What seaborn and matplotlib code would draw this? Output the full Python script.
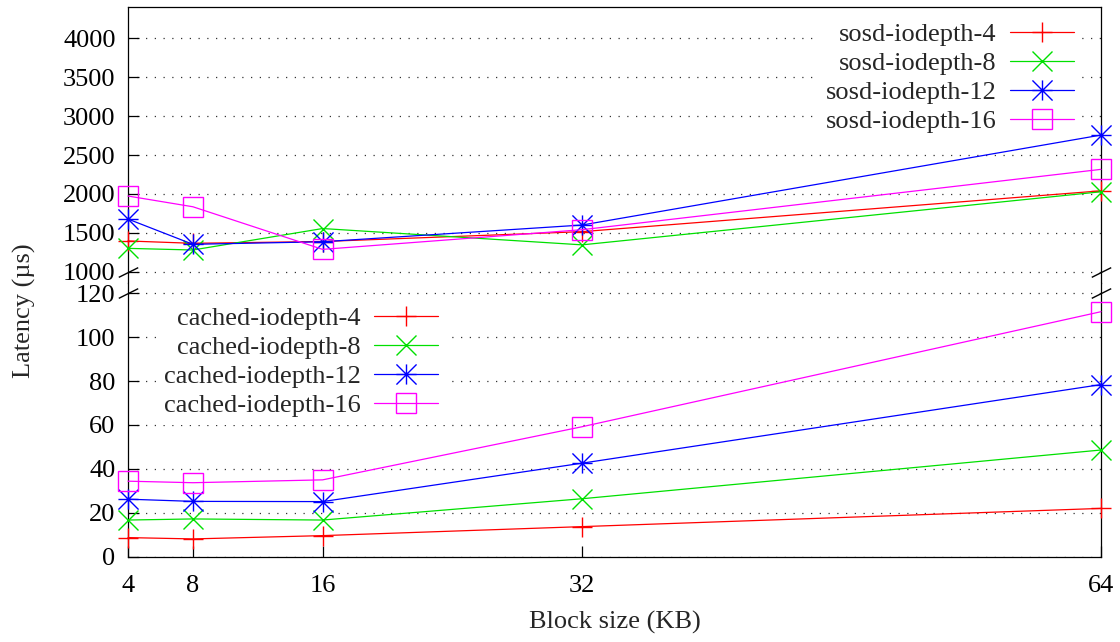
import numpy as np
import matplotlib
matplotlib.use("Agg")
import matplotlib.pyplot as plt
from matplotlib.path import Path
import seaborn as sns

# ---- data ----
block_sizes = [4, 8, 16, 32, 64]

sosd_labels = ["sosd-iodepth-4", "sosd-iodepth-8", "sosd-iodepth-12", "sosd-iodepth-16"]
sosd_iodepth_4 = [1395, 1365, 1388, 1515, 2040]
sosd_iodepth_8 = [1300, 1279, 1555, 1345, 2028]
sosd_iodepth_12 = [1677, 1352, 1385, 1600, 2757]
sosd_iodepth_16 = [1973, 1835, 1287, 1540, 2316]

cached_labels = ["cached-iodepth-4", "cached-iodepth-8", "cached-iodepth-12", "cached-iodepth-16"]
cached_iodepth_4 = [8.7, 8.1, 9.6, 13.7, 22.0]
cached_iodepth_8 = [16.7, 17.2, 16.7, 26.4, 48.6]
cached_iodepth_12 = [26.2, 25.2, 25.1, 42.6, 78.4]
cached_iodepth_16 = [34.4, 33.7, 35.0, 59.2, 111.6]

top_ticks = [1000, 1500, 2000, 2500, 3000, 3500, 4000]
bot_ticks = [0, 20, 40, 60, 80, 100, 120]

x_label = "Block size (KB)"
y_label = "Latency (µs)"

# ---- style ----
sns.set_theme(style="white")
plt.rcParams["font.family"] = ["Liberation Serif", "DejaVu Serif"]
FS = 19

colors = ["#ff0000", "#00e000", "#0000ff", "#ff00ff"]
asterisk = Path([(-1, 0), (1, 0), (0, -1), (0, 1), (-1, -1), (1, 1), (-1, 1), (1, -1)],
                [Path.MOVETO, Path.LINETO] * 4)
markers = ["+", "x", asterisk, "s"]

W, H = 1120, 642
fig = plt.figure(figsize=(W / 100, H / 100), dpi=100)

x_left, x_right = 128, 1101
y_top, y_mid, y_bot = 7.3, 282.5, 556.7

def frac_rect(top_px, bot_px):
    return [x_left / W, 1 - bot_px / H, (x_right - x_left) / W, (bot_px - top_px) / H]

ax_top = fig.add_axes(frac_rect(y_top, y_mid))
ax_bot = fig.add_axes(frac_rect(y_mid, y_bot))

top_series = [sosd_iodepth_4, sosd_iodepth_8, sosd_iodepth_12, sosd_iodepth_16]
bot_series = [cached_iodepth_4, cached_iodepth_8, cached_iodepth_12, cached_iodepth_16]

for ax, series, labels in [(ax_top, top_series, sosd_labels), (ax_bot, bot_series, cached_labels)]:
    for vals, lab, c, m in zip(series, labels, colors, markers):
        sns.lineplot(x=block_sizes, y=vals, ax=ax, color=c, lw=0.9, label=lab,
                     marker=m, markersize=14.5, markeredgecolor=c,
                     markerfacecolor="none", markeredgewidth=1.0,
                     clip_on=False, zorder=5)

# axis limits / ticks
for ax in (ax_top, ax_bot):
    ax.set_xlim(block_sizes[0], block_sizes[-1])
    ax.set_xlabel("")
    ax.set_ylabel("")
    ax.yaxis.grid(True, linestyle=(0, (1, 6)), color="#333333", lw=0.9)
    ax.xaxis.grid(False)
    for s in ax.spines.values():
        s.set_color("black")
        s.set_linewidth(0.9)
    ax.tick_params(axis="both", direction="in", length=8, width=0.9, color="black",
                   labelsize=FS, labelcolor="black")
    ax.tick_params(axis="y", left=True, right=False, pad=9)
    ax.tick_params(axis="x", top=False)

ax_top.set_ylim(861, 4400)
ax_top.set_yticks(top_ticks)
ax_top.spines["bottom"].set_visible(False)
ax_top.tick_params(axis="x", bottom=False, labelbottom=False)

ax_bot.set_ylim(0, 124.9)
ax_bot.set_yticks(bot_ticks)
ax_bot.spines["top"].set_visible(False)
ax_bot.set_xticks(block_sizes)
ax_bot.set_xticklabels([str(b) for b in block_sizes])
ax_bot.tick_params(axis="x", bottom=True, pad=13.5)

# axis break marks
brk = [(-1, -0.5), (1, 0.5)]
ax_top.plot([0, 1], [top_ticks[0]] * 2, transform=ax_top.get_yaxis_transform(),
            marker=brk, markersize=14, linestyle="none", color="black",
            markeredgewidth=1.0, clip_on=False, zorder=10)
ax_bot.plot([0, 1], [bot_ticks[-1]] * 2, transform=ax_bot.get_yaxis_transform(),
            marker=brk, markersize=14, linestyle="none", color="black",
            markeredgewidth=1.0, clip_on=False, zorder=10)

# legends
leg_kw = dict(fontsize=FS, markerfirst=False, frameon=True, facecolor="white",
              edgecolor="none", framealpha=1, fancybox=False, borderpad=0.3,
              handlelength=2.42, handletextpad=0.53, labelspacing=0.21,
              borderaxespad=0)
lt = ax_top.legend(loc="upper right", bbox_to_anchor=(0.9805, 0.9735), **leg_kw)
lb = ax_bot.legend(loc="upper right", bbox_to_anchor=(0.327, 0.94), **leg_kw)
for lg in (lt, lb):
    lg.set_zorder(4)

fig.text(24 / W, 1 - 311 / H, y_label, rotation=90, ha="center", va="center", fontsize=FS)
fig.text((x_left + x_right) / 2 / W, 1 - 622 / H, x_label, ha="center", va="center", fontsize=FS)

fig.savefig("out.png", dpi=100)
